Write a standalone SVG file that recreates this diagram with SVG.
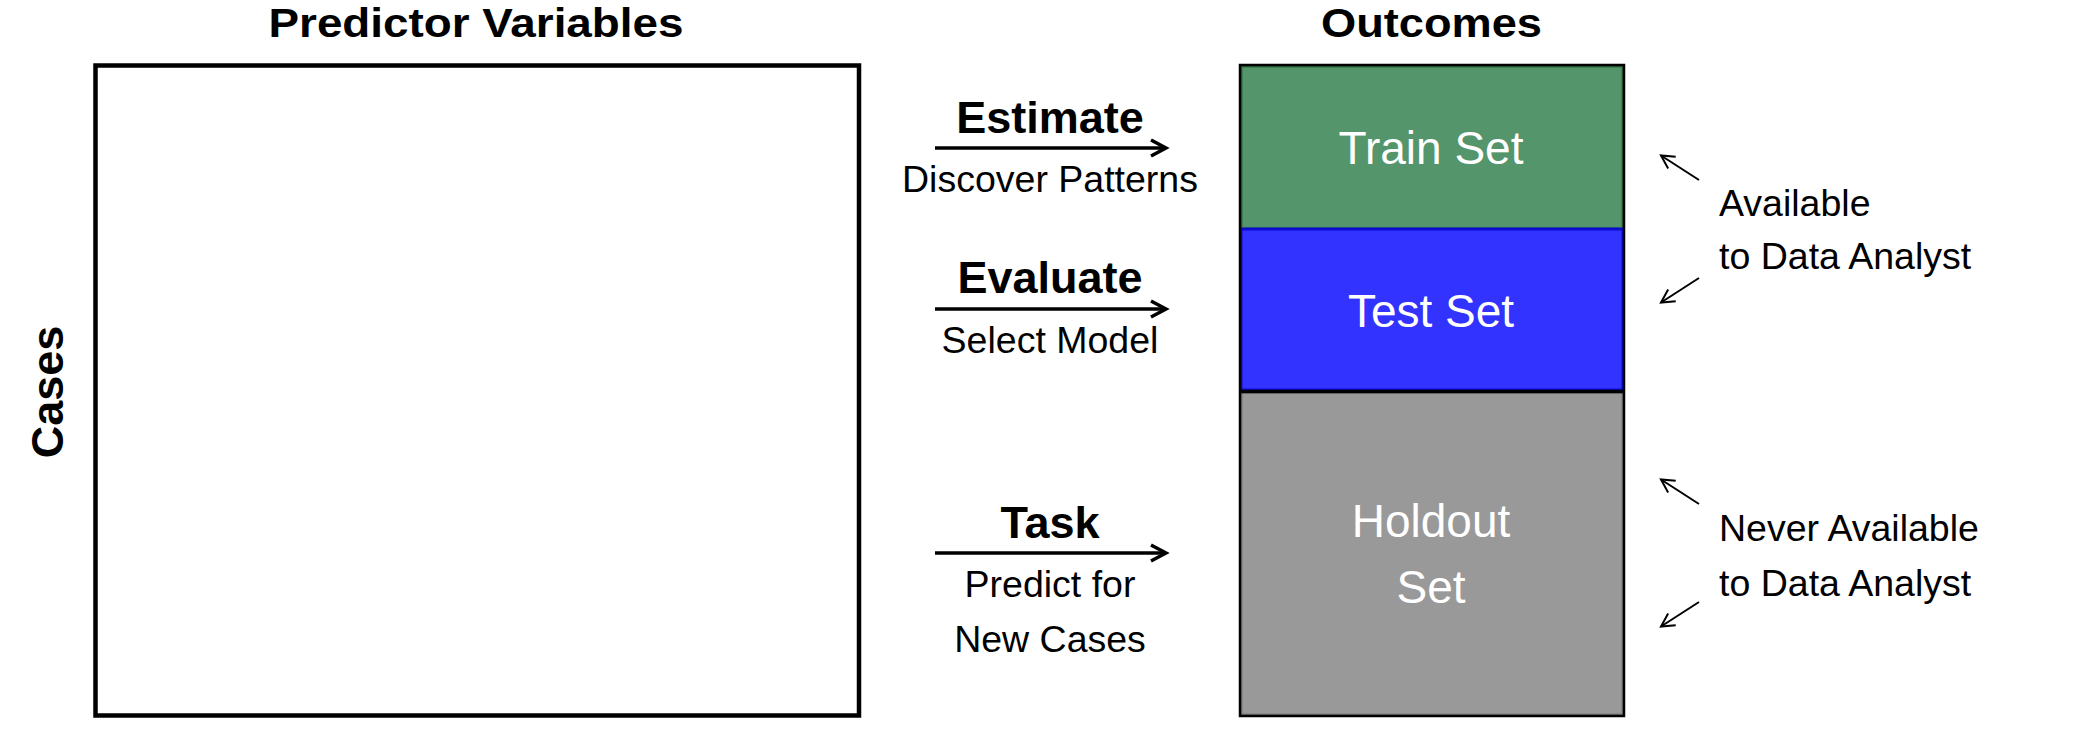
<svg xmlns="http://www.w3.org/2000/svg" width="2100" height="750" viewBox="0 0 2100 750">
<style>
.title{font-family:"Liberation Sans",Arial,sans-serif;font-weight:bold;font-size:40px;fill:#000;text-anchor:middle}
.bold{font-family:"Liberation Sans",Arial,sans-serif;font-weight:bold;font-size:45px;fill:#000;text-anchor:middle}
.sub{font-family:"Liberation Sans",Arial,sans-serif;font-size:37.5px;fill:#000;text-anchor:middle}
.set{font-family:"Liberation Sans",Arial,sans-serif;font-size:46px;fill:#fff;text-anchor:middle}
.note{font-family:"Liberation Sans",Arial,sans-serif;font-size:37.5px;fill:#000}
.big{stroke:#000;stroke-width:3.5;fill:none}
.thin{stroke:#000;stroke-width:2;fill:none}
</style>
<defs>
<marker id="hb" markerUnits="userSpaceOnUse" markerWidth="20" markerHeight="20" refX="16" refY="9" orient="auto" overflow="visible">
<path d="M1,1 L16,9 L1,17" fill="none" stroke="#000" stroke-width="3.5"/>
</marker>
<marker id="ht" markerUnits="userSpaceOnUse" markerWidth="20" markerHeight="20" refX="14" refY="7" orient="auto" overflow="visible">
<path d="M1,0 L14,7 L1,14" fill="none" stroke="#000" stroke-width="2"/>
</marker>
</defs>
<rect width="2100" height="750" fill="#fff"/>
<g id="title-predictors"><text class="title" x="476" y="37" textLength="415" lengthAdjust="spacingAndGlyphs">Predictor Variables</text></g>
<g id="title-outcomes"><text class="title" x="1431.5" y="37" textLength="221" lengthAdjust="spacingAndGlyphs">Outcomes</text></g>
<g id="cases-label"><text class="bold" transform="translate(63,392) rotate(-90)" x="0" y="0" font-size="44">Cases</text></g>
<g id="predictor-box"><rect x="95.5" y="65.5" width="763.5" height="650" fill="#fff" stroke="#000" stroke-width="4.5"/></g>
<g id="train-set">
<rect x="1241" y="66" width="382" height="163" fill="#54956b" stroke="#2d6a3c" stroke-width="3"/>
<text class="set" x="1431" y="164">Train Set</text>
</g>
<g id="test-set">
<rect x="1241" y="229" width="382" height="161" fill="#3333ff" stroke="#0a0ad0" stroke-width="3"/>
<text class="set" x="1431" y="327">Test Set</text>
</g>
<g id="holdout-set">
<rect x="1241" y="392" width="382" height="323" fill="#999999" stroke="#777" stroke-width="3"/>
<text class="set" x="1431" y="537">Holdout</text>
<text class="set" x="1431" y="603">Set</text>
</g>
<g id="outcome-frame">
<rect x="1240" y="65" width="384" height="651" fill="none" stroke="#000" stroke-width="2.5"/>
<line x1="1240" y1="391.5" x2="1624" y2="391.5" stroke="#000" stroke-width="3.5"/>
</g>
<g id="labels-left">
<text class="bold" x="1050" y="133">Estimate</text>
<text class="sub" x="1050" y="192">Discover Patterns</text>
<text class="bold" x="1050" y="293">Evaluate</text>
<text class="sub" x="1050" y="353">Select Model</text>
<text class="bold" x="1050" y="538">Task</text>
<text class="sub" x="1050" y="597">Predict for</text>
<text class="sub" x="1050" y="652">New Cases</text>
</g>
<g id="labels-right">
<text class="note" x="1719" y="216">Available</text>
<text class="note" x="1719" y="269">to Data Analyst</text>
<text class="note" x="1719" y="541">Never Available</text>
<text class="note" x="1719" y="596">to Data Analyst</text>
</g>
<g id="connectors">
<line class="big" x1="935" y1="148" x2="1166" y2="148" marker-end="url(#hb)"/>
<line class="big" x1="935" y1="309" x2="1166" y2="309" marker-end="url(#hb)"/>
<line class="big" x1="935" y1="553" x2="1166" y2="553" marker-end="url(#hb)"/>
<line class="thin" x1="1699" y1="180" x2="1661" y2="155.5" marker-end="url(#ht)"/>
<line class="thin" x1="1699" y1="278" x2="1661" y2="302.5" marker-end="url(#ht)"/>
<line class="thin" x1="1699" y1="504" x2="1661" y2="479.5" marker-end="url(#ht)"/>
<line class="thin" x1="1699" y1="602" x2="1661" y2="626.5" marker-end="url(#ht)"/>
</g>
</svg>
